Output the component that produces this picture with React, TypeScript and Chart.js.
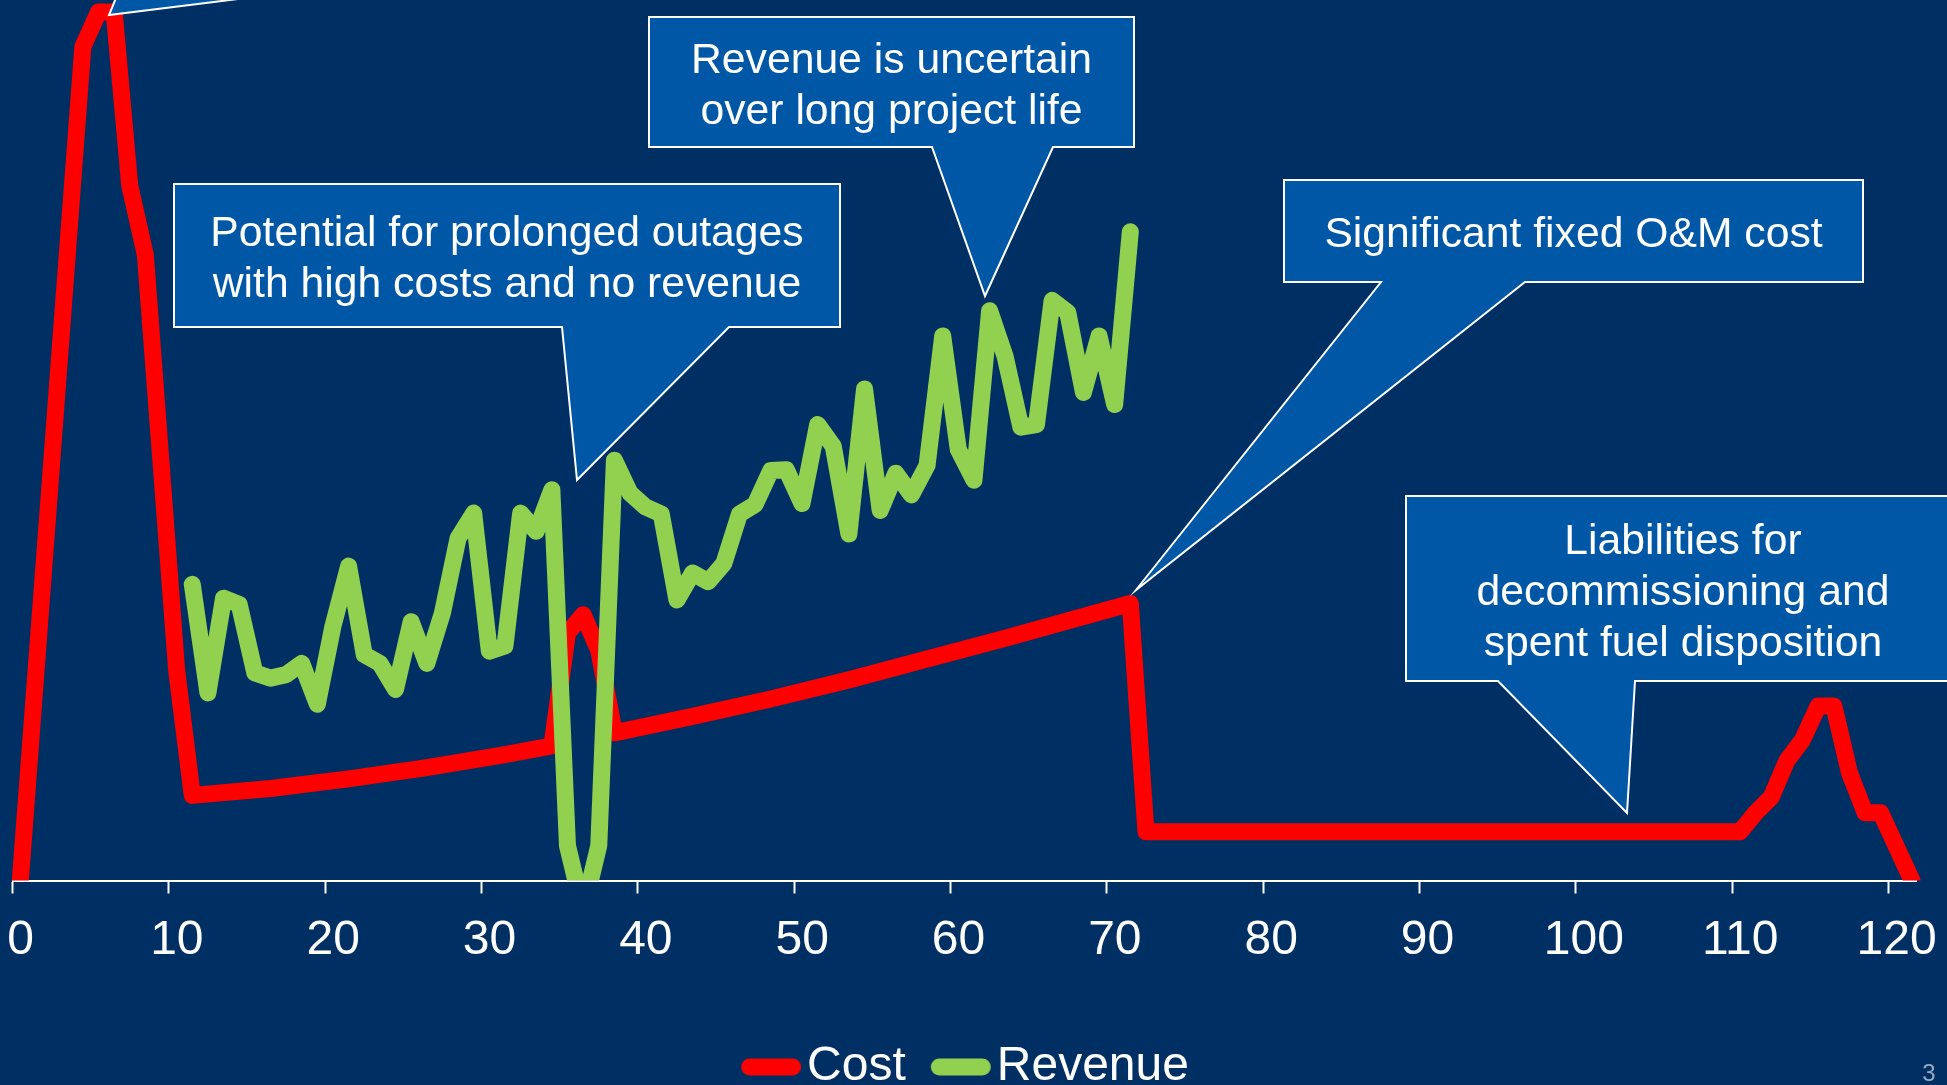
import React, { useEffect, useRef } from 'react';
import { Chart, registerables } from 'chart.js';

Chart.register(...registerables);

const FONT = "'Liberation Sans', Arial, Helvetica, sans-serif";
const BG = '#002F63';
const CALLOUT_FILL = '#0057A6';
const RED = '#FF0000';
const GREEN = '#92D050';

// ---- data ----
const seriesNames = ['Cost', 'Revenue'];

const costYears = [
  0.5, 4.5, 5.5, 6.5, 7.5, 8.5, 10.5, 11.5, 16.5, 21.5, 26.5, 31.5, 34.5, 35.5, 36.5,
  37.5, 38.5, 43.5, 48.5, 53.5, 58.5, 63.5, 68.5, 71.5, 72.5, 110.5, 111.5, 112.5,
  113.5, 114.5, 115.5, 116.5, 117.5, 118.5, 119.5, 121.5,
];
const costValues = [
  0, 96, 100, 100, 80, 72, 24.2, 9.8, 10.6, 11.7, 13.0, 14.5, 15.5, 28.5, 30.6,
  26.5, 17.0, 18.9, 20.9, 23.1, 25.5, 27.9, 30.4, 31.9, 5.6, 5.6, 7.8, 9.6,
  13.8, 16.2, 20.1, 20.1, 12.4, 7.8, 7.8, 0,
];

const revenueStartYear = 11.5;
const revenueValues = [
  34.1, 21.6, 32.5, 31.8, 23.9, 23.3, 23.7, 25.0, 20.3, 29.3,
  36.2, 26.0, 25.0, 22.0, 29.8, 25.0, 30.8, 39.4, 42.3, 26.4,
  27.0, 42.3, 40.2, 45.0, 4.0, -3.5, 4.0, 48.4, 44.6, 43.0,
  42.2, 32.3, 35.4, 34.4, 36.5, 42.2, 43.3, 47.2, 47.3, 43.4,
  52.5, 50.0, 39.9, 56.6, 42.6, 46.9, 44.4, 47.8, 62.7, 49.6,
  46.1, 65.6, 60.3, 52.2, 52.5, 66.8, 65.4, 56.2, 62.7, 54.8,
  74.7,
];

const xMin = 0;
const xMax = 121.8;
const xStep = 10;
const yMin = 0;
const yMax = 100;

// ---- annotations (pixel geometry, separate from data) ----
type Callout = { lines: string[]; box: number[]; base: number[]; tip: number[] };
const callouts: Callout[] = [
  { lines: [], box: [60, -200, 600, -2], base: [116, 246], tip: [109, 15] },
  {
    lines: ['Potential for prolonged outages', 'with high costs and no revenue'],
    box: [174, 184, 840, 327], base: [562, 729], tip: [577, 480],
  },
  {
    lines: ['Revenue is uncertain', 'over long project life'],
    box: [649, 17, 1134, 147], base: [932, 1053], tip: [985, 296],
  },
  {
    lines: ['Significant fixed O&M cost'],
    box: [1284, 180, 1863, 282], base: [1381, 1525], tip: [1136, 590],
  },
  {
    lines: ['Liabilities for', 'decommissioning and', 'spent fuel disposition'],
    box: [1406, 496, 1960, 681], base: [1498, 1635], tip: [1627, 813],
  },
];
const slideNumber = '3';

const calloutPlugin = {
  id: 'callouts',
  afterDatasetsDraw(chart: any) {
    const ctx = chart.ctx as CanvasRenderingContext2D;
    ctx.save();
    for (const c of callouts) {
      const [x1, y1, x2, y2] = c.box;
      ctx.beginPath();
      ctx.moveTo(x1, y1);
      ctx.lineTo(x2, y1);
      ctx.lineTo(x2, y2);
      ctx.lineTo(c.base[1], y2);
      ctx.lineTo(c.tip[0], c.tip[1]);
      ctx.lineTo(c.base[0], y2);
      ctx.lineTo(x1, y2);
      ctx.closePath();
      ctx.fillStyle = CALLOUT_FILL;
      ctx.fill();
      ctx.lineWidth = 2;
      ctx.lineJoin = 'miter';
      ctx.strokeStyle = '#FFFFFF';
      ctx.stroke();
      if (c.lines.length) {
        ctx.fillStyle = '#FFFFFF';
        ctx.font = `42.7px ${FONT}`;
        ctx.textAlign = 'center';
        ctx.textBaseline = 'middle';
        const lh = 51.2;
        const cx = (x1 + x2) / 2;
        const cy = (y1 + y2) / 2 + 4.5;
        const startY = cy - ((c.lines.length - 1) * lh) / 2;
        c.lines.forEach((t, i) => ctx.fillText(t, cx, startY + i * lh));
      }
    }
    ctx.restore();
  },
  afterDraw(chart: any) {
    const ctx = chart.ctx as CanvasRenderingContext2D;
    ctx.save();
    ctx.fillStyle = '#9AA9C2';
    ctx.font = `24px ${FONT}`;
    ctx.textAlign = 'center';
    ctx.textBaseline = 'middle';
    ctx.fillText(slideNumber, 1929, 1074);
    ctx.restore();
  },
};

// legend symbol: a thick rounded line, offset so it sits right before the label text
function legendSymbol(color: string): HTMLCanvasElement {
  const c = document.createElement('canvas');
  c.width = 120;
  c.height = 24;
  const g = c.getContext('2d') as CanvasRenderingContext2D;
  g.strokeStyle = color;
  g.lineWidth = 17;
  g.lineCap = 'round';
  g.beginPath();
  g.moveTo(39 + 8.5, 12);
  g.lineTo(99 - 8.5, 12);
  g.stroke();
  return c;
}

export default function App() {
  const ref = useRef<HTMLCanvasElement>(null);

  useEffect(() => {
    document.body.style.margin = '0';
    document.body.style.background = BG;
    Chart.defaults.font.family = FONT;
    Chart.defaults.color = '#FFFFFF';

    const costData = costYears.map((x, i) => ({ x, y: costValues[i] }));
    const revenueData = revenueValues.map((y, i) => ({ x: revenueStartYear + i, y }));
    const symbols = [legendSymbol(RED), legendSymbol(GREEN)];

    const lineStyle = {
      borderWidth: 17,
      pointRadius: 0,
      pointHoverRadius: 0,
      pointBorderWidth: 17,
      borderCapStyle: 'round',
      borderJoinStyle: 'round',
      tension: 0,
      fill: false,
      clip: { left: 20, top: 20, right: 20, bottom: 0 },
    };

    const chart = new Chart(ref.current as HTMLCanvasElement, {
      type: 'line',
      data: {
        datasets: [
          {
            label: seriesNames[0],
            data: costData,
            borderColor: RED,
            backgroundColor: RED,
            pointBorderColor: RED,
            pointBackgroundColor: RED,
            order: 2,
            ...lineStyle,
          } as any,
          {
            label: seriesNames[1],
            data: revenueData,
            borderColor: GREEN,
            backgroundColor: GREEN,
            pointBorderColor: GREEN,
            pointBackgroundColor: GREEN,
            order: 1,
            ...lineStyle,
          } as any,
        ],
      },
      options: {
        responsive: false,
        maintainAspectRatio: false,
        devicePixelRatio: 1,
        animation: false,
        events: [],
        layout: { padding: { top: 12, left: 12, right: 29, bottom: -16 } },
        scales: {
          x: {
            type: 'linear',
            position: 'bottom',
            min: xMin,
            max: xMax,
            afterFit: (scale: any) => {
              scale.height += 30.9;
              scale.paddingLeft = 12.5;
            },
            ticks: {
              stepSize: xStep,
              includeBounds: false,
              color: '#FFFFFF',
              padding: 18,
              labelOffset: 8,
              maxRotation: 0,
              autoSkip: false,
              font: { size: 48, family: FONT },
            },
            grid: {
              display: true,
              drawOnChartArea: false,
              drawTicks: true,
              tickLength: 13,
              tickColor: '#FFFFFF',
              tickWidth: 2,
              color: '#FFFFFF',
            },
            border: { display: true, color: '#FFFFFF', width: 2 },
          },
          y: {
            type: 'linear',
            display: false,
            min: yMin,
            max: yMax,
          },
        },
        plugins: {
          tooltip: { enabled: false },
          title: { display: false },
          legend: {
            display: true,
            position: 'bottom',
            align: 'center',
            labels: {
              usePointStyle: true,
              pointStyleWidth: 42,
              padding: 25,
              color: '#FFFFFF',
              font: { size: 48, family: FONT },
              sort: (a: any, b: any) => a.datasetIndex - b.datasetIndex,
              generateLabels: (ch: any) =>
                (Chart.defaults.plugins.legend.labels.generateLabels as any)(ch).map((l: any) => ({
                  ...l,
                  pointStyle: symbols[l.datasetIndex],
                  lineWidth: 17,
                  strokeStyle: ch.data.datasets[l.datasetIndex].borderColor,
                  fillStyle: ch.data.datasets[l.datasetIndex].borderColor,
                })),
            },
          },
        },
      } as any,
      plugins: [calloutPlugin],
    });

    return () => chart.destroy();
  }, []);

  return (
    <div
      style={{
        position: 'fixed',
        left: 0,
        top: 0,
        width: 1947,
        height: 1085,
        background: BG,
        overflow: 'hidden',
      }}
    >
      <canvas
        ref={ref}
        width={1947}
        height={1085}
        style={{ display: 'block', width: 1947, height: 1085 }}
      />
    </div>
  );
}
